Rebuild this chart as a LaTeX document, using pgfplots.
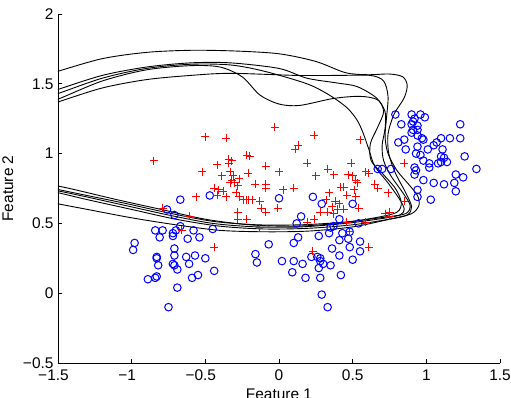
\documentclass[border=0pt]{standalone}
\usepackage{fontspec}
\setmainfont{Liberation Sans}
\usepackage{pgfplots}
\pgfplotsset{compat=1.18}

\begin{document}
\begin{tikzpicture}
\begin{axis}[
  scale only axis,
  width=442bp, height=349bp,
  xmin=-1.5, xmax=1.5, ymin=-0.5, ymax=2,
  axis x line*=bottom, axis y line*=left,
  axis line style={-, line width=0.8bp},
  tick align=inside,
  major tick length=4bp,
  tick style={line width=0.6bp, black},
  xtick={-1.5,-1,-0.5,0,0.5,1,1.5},
  xticklabels={\llap{−}1.5,\llap{−}1,\llap{−}0.5,0,0.5,1,1.5},
  ytick={-0.5,0,0.5,1,1.5,2},
  yticklabels={−0.5,0,0.5,1,1.5,2},
  tick label style={font=\fontsize{15.5}{18}\selectfont},
  xticklabel style={yshift=-3bp},
  yticklabel style={xshift=-1bp},
  label style={font=\fontsize{15.5}{18}\selectfont},
  xlabel={Feature 1},
  ylabel={Feature 2},
  xlabel style={at={(axis description cs:0.5,0)}, anchor=north, yshift=-22bp},
  ylabel style={at={(axis description cs:-0.1018,0.5)}, anchor=base},
]

% class 2: blue circles
\addplot[only marks, mark=o, mark size=3.8bp, color=blue, mark options={line width=1bp}] coordinates {
(-0.47,0.70) (-0.67,0.67) (-0.76,0.60) (-0.71,0.56) (-0.67,0.48) (-0.70,0.45)
(-0.72,0.43) (-0.72,0.41) (-0.84,0.45) (-0.79,0.45) (-0.81,0.40) (-0.62,0.39)
(-0.58,0.45) (-0.54,0.40) (-0.45,0.46) (-0.98,0.36) (-0.99,0.31) (-0.83,0.26)
(-0.83,0.25) (-0.82,0.20) (-0.71,0.32) (-0.71,0.27) (-0.72,0.21) (-0.71,0.20)
(-0.69,0.17) (-0.63,0.26) (-0.61,0.21) (-0.57,0.27) (-0.50,0.25) (-0.89,0.10)
(-0.84,0.11) (-0.83,0.12) (-0.59,0.11) (-0.55,0.13) (-0.44,0.16) (-0.69,0.04)
(-0.75,-0.10)
(0.00,0.68) (0.23,0.69) (0.29,0.64) (0.50,0.64) (0.15,0.55) (0.12,0.50)
(0.41,0.53) (0.37,0.48) (0.35,0.47) (0.54,0.50) (0.48,0.44) (0.43,0.43)
(0.34,0.43) (0.27,0.41) (0.13,0.40) (0.10,0.36) (-0.07,0.35) (0.41,0.38)
(0.47,0.39) (0.55,0.37) (0.36,0.32) (0.48,0.33) (0.55,0.30) (0.41,0.27)
(0.50,0.24) (-0.16,0.28) (-0.15,0.22) (0.02,0.23) (0.10,0.23) (0.16,0.21)
(0.22,0.26) (0.26,0.26) (0.28,0.25) (0.28,0.23) (0.30,0.21) (0.35,0.20)
(0.27,0.18) (0.28,0.11) (0.18,0.11) (0.09,0.15) (0.42,0.13) (0.29,-0.01)
(0.33,-0.10)
(0.79,1.28) (0.90,1.28) (0.96,1.28) (0.99,1.26) (0.92,1.25) (0.91,1.23)
(0.90,1.21) (0.83,1.21) (0.94,1.20) (0.91,1.17) (0.94,1.17) (0.90,1.15)
(0.94,1.13) (1.23,1.21) (0.85,1.10) (0.97,1.11) (0.98,1.10) (0.81,1.08)
(1.10,1.11) (1.16,1.11) (1.23,1.11) (1.07,1.08) (1.05,1.06) (0.94,1.05)
(0.86,1.03) (1.01,1.03) (1.11,1.03) (0.93,1.00) (0.96,0.99) (1.10,0.98)
(1.26,0.98) (0.98,0.95) (1.02,0.93) (1.08,0.93) (1.10,0.94) (1.14,0.94)
(1.12,0.97) (0.92,0.90) (0.93,0.88) (1.02,0.90) (1.34,0.89) (0.92,0.85)
(0.67,0.89) (0.70,0.89) (0.76,0.89) (0.98,0.81) (1.05,0.79) (1.12,0.78)
(1.19,0.79) (1.20,0.85) (1.25,0.83) (1.20,0.73) (0.94,0.74) (0.94,0.69)
(1.03,0.67)
};

% class 1: red crosses
\addplot[only marks, mark=+, mark size=4bp, color=red, mark options={line width=0.9bp}] coordinates {
(-0.85,0.95) (-0.50,1.12) (-0.36,1.11) (-0.03,1.19) (0.24,1.13) (0.13,1.06)
(0.11,1.03) (0.55,1.10) (-0.52,0.87) (-0.42,0.92) (-0.34,0.96) (-0.32,0.95)
(-0.34,0.93) (-0.22,0.99) (-0.20,0.98) (-0.09,0.91) (0.00,0.87) (0.19,0.93)
(0.49,0.93) (0.33,0.89) (0.37,0.85) (0.25,0.84) (0.47,0.85) (0.50,0.84)
(0.52,0.81) (0.53,0.79) (0.59,0.87) (0.61,0.86) (0.65,0.78) (0.67,0.75)
(0.85,0.93) (0.74,0.72) (0.85,0.66) (0.75,0.58) (0.72,0.57) (0.75,0.55)
(0.59,0.51) (0.61,0.33) (-0.39,0.84) (-0.33,0.87) (-0.31,0.84) (-0.27,0.82)
(-0.21,0.86) (-0.32,0.81) (-0.30,0.79) (-0.33,0.79) (-0.28,0.77) (-0.16,0.78)
(-0.09,0.78) (-0.09,0.75) (-0.44,0.75) (-0.41,0.74) (-0.38,0.73) (-0.42,0.70)
(-0.56,0.69) (-0.36,0.69) (-0.29,0.72) (-0.27,0.69) (-0.24,0.67) (-0.22,0.67)
(-0.21,0.67) (-0.18,0.67) (-0.13,0.66) (0.03,0.74) (0.10,0.75) (-0.12,0.61)
(-0.09,0.58) (-0.01,0.61) (-0.28,0.58) (-0.28,0.53) (-0.22,0.53) (-0.13,0.47)
(-0.61,0.55) (-0.79,0.61) (-0.66,0.45) (-0.44,0.33) (0.19,0.51) (0.24,0.53)
(0.23,0.30) (0.32,0.67) (0.34,0.72) (0.38,0.66) (0.41,0.64) (0.42,0.76)
(0.44,0.76) (0.46,0.70) (0.51,0.74) (0.52,0.69) (0.54,0.61) (0.44,0.60)
(0.28,0.58) (0.33,0.58) (0.36,0.62) (0.40,0.60) (0.48,0.44) (0.46,0.51)
(0.37,0.57)
};

% decision boundaries of the repeated runs
\addplot[black, line width=0.9bp, smooth] coordinates {
(-1.6,1.56) (-1.5,1.59) (-1.2,1.68) (-0.9,1.725) (-0.6,1.74) (-0.3,1.735)
(0,1.715) (0.25,1.66) (0.45,1.58) (0.6,1.565) (0.75,1.57) (0.84,1.55)
(0.87,1.49) (0.85,1.40) (0.78,1.28) (0.74,1.14) (0.745,1.0) (0.79,0.86)
(0.86,0.72) (0.90,0.62) (0.87,0.56) (0.75,0.53) (0.5,0.49) (0.2,0.465)
(-0.1,0.46) (-0.4,0.48) (-0.7,0.53) (-1.0,0.60) (-1.3,0.67) (-1.5,0.72) (-1.6,0.74)
};
\addplot[black, line width=0.9bp, smooth] coordinates {
(-1.6,1.36) (-1.5,1.39) (-1.2,1.52) (-0.9,1.60) (-0.6,1.63) (-0.4,1.62)
(-0.25,1.55) (-0.13,1.42) (0,1.355) (0.14,1.345) (0.37,1.395) (0.55,1.41)
(0.67,1.385) (0.71,1.30) (0.67,1.19) (0.62,1.07) (0.625,0.95) (0.70,0.86)
(0.79,0.75) (0.83,0.65) (0.80,0.58) (0.65,0.54) (0.4,0.50) (0.1,0.48)
(-0.2,0.49) (-0.5,0.53) (-0.8,0.60) (-1.1,0.67) (-1.4,0.745) (-1.6,0.79)
};
\addplot[black, line width=0.9bp, smooth] coordinates {
(-1.6,1.40) (-1.5,1.43) (-1.2,1.54) (-0.9,1.61) (-0.6,1.64) (-0.33,1.635)
(-0.1,1.59) (0.19,1.50) (0.34,1.42) (0.46,1.33) (0.53,1.24) (0.57,1.15)
(0.61,1.03) (0.65,0.91) (0.74,0.79) (0.82,0.67) (0.85,0.60) (0.82,0.56)
(0.7,0.535) (0.45,0.50) (0.15,0.475) (-0.15,0.475) (-0.45,0.50) (-0.75,0.56)
(-1.05,0.63) (-1.35,0.70) (-1.6,0.755)
};
\addplot[black, line width=0.9bp, smooth] coordinates {
(-1.6,1.43) (-1.5,1.46) (-1.2,1.56) (-0.9,1.62) (-0.6,1.65) (-0.33,1.65)
(0,1.61) (0.19,1.54) (0.4,1.505) (0.53,1.48) (0.66,1.40) (0.72,1.30)
(0.72,1.18) (0.70,1.06) (0.71,0.95) (0.76,0.84) (0.84,0.72) (0.89,0.63)
(0.86,0.57) (0.72,0.545) (0.45,0.51) (0.15,0.49) (-0.15,0.49) (-0.45,0.515)
(-0.75,0.575) (-1.05,0.645) (-1.35,0.71) (-1.6,0.765)
};
\addplot[black, line width=0.9bp, smooth] coordinates {
(-1.6,1.34) (-1.5,1.37) (-1.2,1.47) (-0.9,1.53) (-0.6,1.56) (-0.33,1.575)
(0.12,1.56) (0.4,1.56) (0.62,1.56) (0.71,1.52) (0.74,1.41) (0.73,1.26)
(0.72,1.12) (0.74,1.0) (0.80,0.88) (0.88,0.78) (0.94,0.70) (0.95,0.63)
(0.90,0.57) (0.75,0.53) (0.5,0.475) (0.2,0.445) (-0.1,0.44) (-0.4,0.45)
(-0.7,0.49) (-1.0,0.54) (-1.3,0.60) (-1.5,0.64) (-1.6,0.66)
};
\end{axis}
\pgfresetboundingbox
\path[use as bounding box] (-58bp,-35bp) rectangle (453bp,363bp);
\end{tikzpicture}
\end{document}
